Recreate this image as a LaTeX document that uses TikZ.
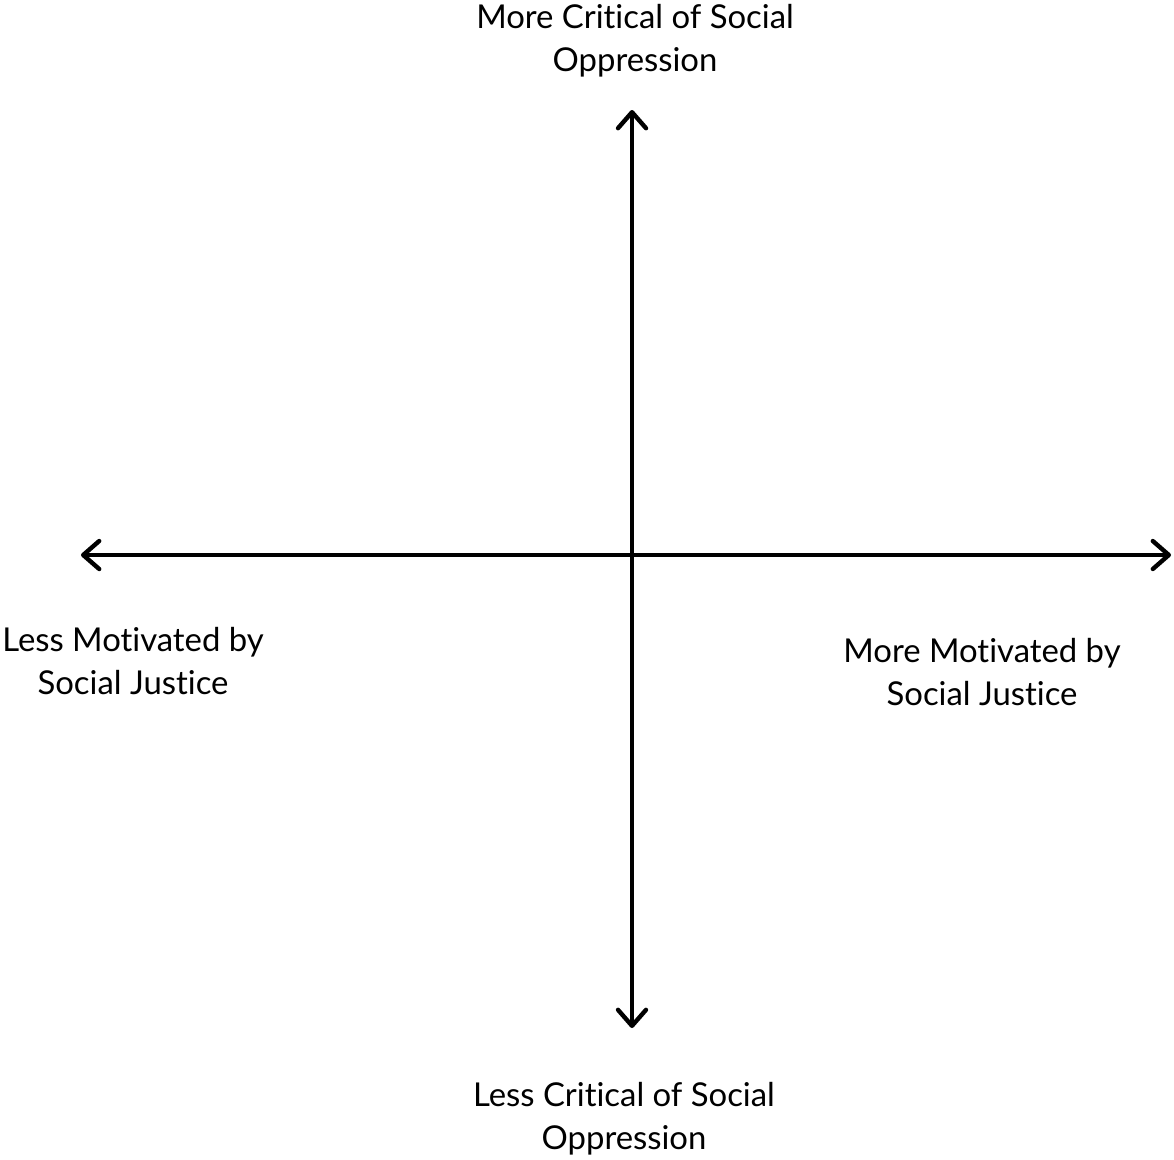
\documentclass[tikz,border=0pt]{standalone}
\usepackage{fontspec}
\setmainfont{Lato}
\usetikzlibrary{arrows.meta}
% break the t-i ligature of Lato
\newcommand{\ti}{t\kern0pt i}
\begin{document}
\begin{tikzpicture}
	\useasboundingbox (0,0) rectangle (23.48,-23.18);
	\tikzset{axis/.style={line width=2.5pt, {Straight Barb[length=3.2mm,width=5.6mm,round]}-{Straight Barb[length=3.2mm,width=5.6mm,round]}}};
	\tikzset{lbl/.style={align=center, font=\fontsize{18.7}{24.4}\selectfont}};
	\coordinate (top) at (12.64,-2.2);
	\coordinate (bot) at (12.64,-20.56);
	\coordinate (left) at (1.62,-11.1);
	\coordinate (right) at (23.42,-11.1);
	\draw[axis] (left) -- (right);
	\draw[axis] (bot) -- (top);
	\path (12.7,-0.82) node[lbl] (v0) {More Cri\ti cal of Social\\Oppression};
	\path (12.48,-22.38) node[lbl] (v1) {Less Cri\ti cal of Social\\Oppression};
	\path (2.66,-13.22) node[lbl] (v2) {Less Mo\ti vated by\\Social Jus\ti ce};
	\path (19.64,-13.44) node[lbl] (v3) {More Mo\ti vated by\\Social Jus\ti ce};
\end{tikzpicture}
\end{document}
